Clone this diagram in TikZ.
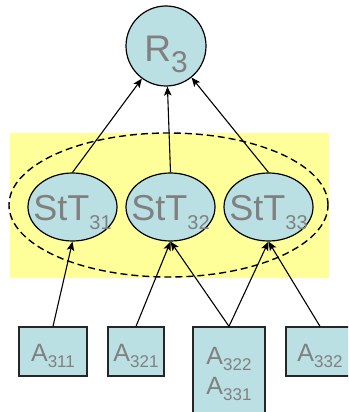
\documentclass[tikz,border=0pt]{standalone}
\usepackage{fontspec}
\setmainfont{Liberation Sans}
\usetikzlibrary{arrows.meta,shapes.geometric}
\definecolor{boxblue}{RGB}{187,224,227}
\definecolor{bandyellow}{RGB}{255,255,153}
\definecolor{labelgrey}{RGB}{128,128,128}
\newcommand{\lowsub}[3]{\raisebox{-#1}{\fontsize{#2}{#2}\selectfont #3}}

\begin{document}
\begin{tikzpicture}[x=1pt,y=-1pt,
		rootnode/.style={circle,draw,line width=1.2pt,fill=boxblue,inner sep=0pt,minimum size=80pt,text=labelgrey,font=\fontsize{37}{37}\selectfont,text height=32pt,text depth=0pt},
		stt/.style={ellipse,draw,line width=1.2pt,fill=boxblue,inner sep=0pt,minimum width=89pt,minimum height=68pt,text=labelgrey,font=\fontsize{36}{36}\selectfont,text height=27pt,text depth=0pt},
		abox/.style={rectangle,draw=black!85,line width=1.3pt,fill=boxblue,inner sep=0pt,minimum height=49pt,text=labelgrey,font=\fontsize{25}{25}\selectfont},
		conn/.style={-{Stealth[length=9pt,width=7.5pt,inset=2pt]},line width=1.1pt}]
		\clip (0,0) rectangle (348,412);
		\fill[bandyellow] (10,133) rectangle (329,278);
		\node[ellipse,draw,dashed,dash pattern=on 7pt off 4pt,line width=1.4pt,minimum width=319pt,minimum height=144pt] (grp) at (168.5,205) {};
		\node[rootnode] (r3) at (166,46) {R\lowsub{10pt}{30pt}{3}};
		\node[stt] (s31) at (72.5,207) {\makebox[0pt]{StT\lowsub{9pt}{20pt}{31}}};
		\node[stt] (s32) at (170.5,207) {\makebox[0pt]{StT\lowsub{9pt}{20pt}{32}}};
		\node[stt] (s33) at (268.5,207) {\makebox[0pt]{StT\lowsub{9pt}{20pt}{33}}};
		\node[abox,minimum width=68pt,text height=20pt,text depth=0pt] (a311) at (53,351.5) {A\lowsub{6pt}{17pt}{311}};
		\node[abox,minimum width=56pt,text height=20pt,text depth=0pt] (a321) at (136,351.5) {A\lowsub{6pt}{17pt}{321}};
		\node[abox,minimum width=72pt,minimum height=93pt,align=center,font=\fontsize{25}{30}\selectfont] (a322) at (229,373.5) {A\lowsub{6pt}{17pt}{322}\\A\lowsub{6pt}{17pt}{331}};
		\node[abox,minimum width=68pt,text height=20pt,text depth=0pt] (a332) at (320,351.5) {A\lowsub{6pt}{17pt}{332}};
		\foreach \s in {s31,s32,s33}
			\draw[conn] (\s.north) -- (r3);
		\draw[conn] (a311.north) -- (s31.south);
		\draw[conn] (a321.north) -- (s32.south);
		\draw[conn] (a322.north) -- (s32.south);
		\draw[conn] (a322.north) -- (s33.south);
		\draw[conn] (a332.north) -- (s33.south);
	\end{tikzpicture}
\end{document}
